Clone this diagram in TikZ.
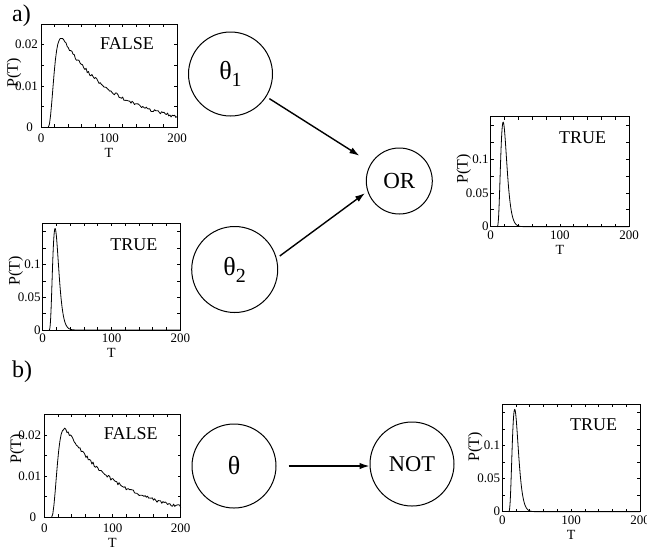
\documentclass[tikz,border=0pt]{standalone}
\usepackage{fontspec}
\setmainfont{Liberation Serif}
\usetikzlibrary{arrows.meta,calc}

\tikzset{
  frame/.style={line width=0.7pt, black},
  curve/.style={line width=0.8pt, black, line join=round},
  tick/.style={font=\fontsize{13}{13}\selectfont, inner sep=0pt},
  axlab/.style={font=\fontsize{14}{14}\selectfont, inner sep=0pt},
  plab/.style={font=\fontsize{16}{16}\selectfont, inner sep=0pt, rotate=90},
  tlab/.style={font=\fontsize{18}{18}\selectfont, inner sep=0pt},
  gate/.style={circle, draw, line width=1pt, inner sep=0pt},
  arr/.style={line width=1.4pt, -{Latex[length=10pt,width=6.5pt]}},
  panel/.style={font=\fontsize{24}{24}\selectfont, inner sep=0pt},
}

% FALSE distribution panel: prefix, x0, ybottom, width, height, P(T) offset
\newcommand{\falseframe}[6]{%
\pgfmathsetmacro\myxu{#4/200}%
\pgfmathsetmacro\myyu{#5/0.025}%
\begin{scope}[shift={(#2,#3)}, x=\myxu pt, y=\myyu pt]
  \draw[frame] (0,0) rectangle (200,0.025);
  \foreach \xx in {20,40,...,180} {\draw[frame] (\xx,0) -- ++(0pt,3pt) (\xx,0.025) -- ++(0pt,-3pt);}
  \foreach \vv in {0.005,0.01,0.015,0.02} {\draw[frame] (0,\vv) -- ++(3pt,0pt) (200,\vv) -- ++(-3pt,0pt);}
  \node[tick, anchor=east] (#1y0) at ($(0,0)+(-8pt,0pt)$) {0};
  \node[tick, anchor=east] (#1y1) at ($(0,0.01)+(-3pt,0pt)$) {0.01};
  \node[tick, anchor=east] (#1y2) at ($(0,0.02)+(-3pt,0pt)$) {0.02};
  \node[tick] (#1x0) at ($(0,0)+(0pt,-11pt)$) {0};
  \node[tick] (#1x1) at ($(100,0)+(0pt,-11pt)$) {100};
  \node[tick] (#1x2) at ($(200,0)+(0pt,-11pt)$) {200};
  \node[axlab] (#1T) at ($(100,0)+(0pt,-26pt)$) {T};
  \node[plab] (#1P) at ($(0,0.0125)+(-27pt,#6pt)$) {P(T)};
  \node[tlab] (#1L) at ($(200,0.025)+(-50pt,-19.5pt)$) {FALSE};
  \draw[curve] plot[domain=10.7:200, samples=110]
    (\x, {0.0279*exp(-(\x-10.7)/80)*(1-exp(-min(((\x-10.7)/10)^2,12))) + 0.0004*rand*(\x>27)});
\end{scope}}

% TRUE distribution panel: prefix, x0, ybottom, width, height, P(T) offset
\newcommand{\trueframe}[6]{%
\pgfmathsetmacro\myxu{#4/200}%
\pgfmathsetmacro\myyu{#5/0.163}%
\begin{scope}[shift={(#2,#3)}, x=\myxu pt, y=\myyu pt]
  \draw[frame] (0,0) rectangle (200,0.163);
  \foreach \xx in {20,40,...,180} {\draw[frame] (\xx,0) -- ++(0pt,3pt) (\xx,0.163) -- ++(0pt,-3pt);}
  \foreach \vv in {0.025,0.05,0.075,0.1,0.125,0.15} {\draw[frame] (0,\vv) -- ++(3pt,0pt) (200,\vv) -- ++(-3pt,0pt);}
  \node[tick, anchor=east] (#1y0) at ($(0,0)+(-2pt,0pt)$) {0};
  \node[tick, anchor=east] (#1y1) at ($(0,0.05)+(-2pt,0pt)$) {0.05};
  \node[tick, anchor=east] (#1y2) at ($(0,0.1)+(-2pt,0pt)$) {0.1};
  \node[tick] (#1x0) at ($(0,0)+(0pt,-8.5pt)$) {0};
  \node[tick] (#1x1) at ($(100,0)+(0pt,-8.5pt)$) {100};
  \node[tick] (#1x2) at ($(200,0)+(0pt,-8.5pt)$) {200};
  \node[axlab] (#1T) at ($(100,0)+(0pt,-23pt)$) {T};
  \node[plab] (#1P) at ($(0,0.0815)+(-27pt,#6pt)$) {P(T)};
  \node[tlab] (#1L) at ($(200,0.163)+(-46.5pt,-21pt)$) {TRUE};
  \draw[curve] plot[domain=9.1:80, samples=160]
    (\x, {0.155*exp(max(4*ln((\x-9)/9)-(\x-18)/2.25,-12))}) -- (200,0);
\end{scope}}

\begin{document}
\begin{tikzpicture}[x=1pt, y=-1pt]
  \fill[white] (0,0) rectangle (647,550);
  \useasboundingbox (0,0) rectangle (647,550);
  \pgfmathsetseed{7}

  % panel labels
  \node[panel] (pa) at (21.5,15.5) {a)};
  \node[panel] (pb) at (22,372) {b)};

  % distributions
  \falseframe{a}{41}{127.3}{136}{103.3}{3}
  \trueframe{b}{42.7}{330}{137.6}{106.7}{6}
  \trueframe{c}{490.7}{226.7}{138.3}{110}{3}
  \falseframe{d}{44.3}{517.3}{136.4}{103}{17}
  \trueframe{e}{502.3}{511.7}{137.7}{107.7}{11}

  % gates
  \node[gate, minimum size=84pt] (t1) at (230.5,74)
    {\fontsize{26}{26}\selectfont θ\raisebox{-7pt}{\fontsize{20}{20}\selectfont 1}};
  \node[gate, minimum size=86pt] (t2) at (234.7,269.5)
    {\fontsize{26}{26}\selectfont θ\raisebox{-7pt}{\fontsize{20}{20}\selectfont 2}};
  \node[gate, minimum size=66pt] (or) at (399.3,181) {\fontsize{23}{23}\selectfont OR};
  \node[gate, minimum size=84pt] (th) at (234,466) {\fontsize{26}{26}\selectfont θ};
  \node[gate, minimum size=84pt] (nt) at (412,464) {\fontsize{22.5}{22.5}\selectfont NOT};

  % connectors
  \draw[arr, shorten <=3.5pt, shorten >=13.7pt] (t1) -- (or);
  \draw[arr, shorten <=3.8pt, shorten >=3pt] (t2.15) -- (or.198);
  \draw[arr] ([xshift=12pt]th.east) -- (th.east -| nt.west);
\end{tikzpicture}
\end{document}
